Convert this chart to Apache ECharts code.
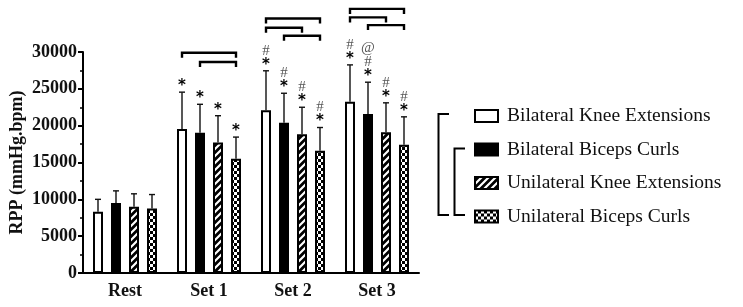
<!DOCTYPE html>
<html>
<head>
<meta charset="utf-8">
<script src="https://cdn.jsdelivr.net/npm/echarts@6/dist/echarts.min.js"></script>
<style>
  html, body { margin: 0; padding: 0; background: #fff; }
  #chart { width: 743px; height: 307px; }
</style>
</head>
<body>
<div id="chart"></div>
<script>
// data
const categories = ['Rest', 'Set 1', 'Set 2', 'Set 3']
const seriesNames = ['Bilateral Knee Extensions', 'Bilateral Biceps Curls', 'Unilateral Knee Extensions', 'Unilateral Biceps Curls']

const bkeMean = [8300, 19550, 22100, 23250]
const bkeSd = [1700, 5000, 5350, 5000]
const bbcMean = [9500, 19050, 20400, 21600]
const bbcSd = [1650, 3850, 4000, 4300]
const ukeMean = [9000, 17700, 18850, 19100]
const ukeSd = [1750, 3650, 3650, 4000]
const ubcMean = [8750, 15500, 16600, 17400]
const ubcSd = [1900, 2950, 3150, 3800]

// significance marks above each bar (bottom first)
const bkeMarks = [[], ['*'], ['*', '#'], ['*', '#']]
const bbcMarks = [[], ['*'], ['*', '#'], ['*', '#', '@']]
const ukeMarks = [[], ['*'], ['*', '#'], ['*', '#']]
const ubcMarks = [[], ['*'], ['*', '#'], ['*', '#']]

// comparison brackets: category, from bar, to bar, height
const bracketCat = [1, 1, 2, 2, 2, 3, 3, 3]
const bracketFrom = [0, 1, 0, 0, 1, 0, 0, 1]
const bracketTo = [3, 3, 3, 2, 3, 3, 2, 3]
const bracketLevel = [29900, 28650, 34550, 33300, 32200, 35850, 34700, 33650]

const yTicks = [0, 5000, 10000, 15000, 20000, 25000, 30000]

const means = [bkeMean, bbcMean, ukeMean, ubcMean]
const sds = [bkeSd, bbcSd, ukeSd, ubcSd]
const marks = [bkeMarks, bbcMarks, ukeMarks, ubcMarks]

const BAR_W = 10
const BAR_GAP = 8
const FONT = '"Liberation Serif", "Times New Roman", serif'

function makePattern (kind) {
    let c = document.createElement('canvas')
    let ctx = c.getContext('2d')
    if (kind === 'hatch') {
        c.width = 7; c.height = 7
        ctx.fillStyle = '#000'
        ctx.fillRect(0, 0, 7, 7)
        ctx.strokeStyle = '#fff'
        ctx.lineWidth = 2.2
        ctx.beginPath()
        for (let k = -7; k <= 14; k += 7) {
            ctx.moveTo(k - 1, 8)
            ctx.lineTo(k + 8, -1)
        }
        ctx.stroke()
    } else {
        c.width = 6; c.height = 6
        ctx.fillStyle = '#000'
        ctx.fillRect(0, 0, 6, 6)
        ctx.fillStyle = '#fff'
        ctx.fillRect(0, 0, 3, 3)
        ctx.fillRect(3, 3, 3, 3)
    }
    return { image: c, repeat: 'repeat' }
}

const fills = ['#ffffff', '#000000', makePattern('hatch'), makePattern('check')]

let chart = echarts.init(document.getElementById('chart'))

let barSeries = seriesNames.map((name, i) => ({
    name: name,
    type: 'bar',
    barWidth: BAR_W,
    barGap: (BAR_GAP / BAR_W * 100) + '%',
    data: means[i],
    itemStyle: { color: fills[i], borderColor: '#000', borderWidth: 2 },
    z: 2
}))

let errData = []
let errMarks = []
means.forEach((m, i) => {
    m.forEach((v, j) => {
        errData.push([j, i, v, v + sds[i][j]])
        errMarks.push(marks[i][j])
    })
})

function barOffset (i) {
    return (i - 1.5) * (BAR_W + BAR_GAP)
}

let errSeries = {
    type: 'custom',
    data: errData,
    z: 5,
    silent: true,
    renderItem (params, api) {
        let cat = api.value(0)
        let idx = api.value(1)
        let base = api.coord([cat, api.value(2)])
        let top = api.coord([cat, api.value(3)])
        let x = base[0] + barOffset(idx)
        let children = [
            { type: 'line', shape: { x1: x, y1: base[1], x2: x, y2: top[1] }, style: { stroke: '#111', lineWidth: 1.4 } },
            { type: 'line', shape: { x1: x - 3, y1: top[1], x2: x + 3, y2: top[1] }, style: { stroke: '#111', lineWidth: 1.4 } }
        ]
        let y = top[1] - 9
        errMarks[params.dataIndex].forEach((s, k) => {
            let star = s === '*'
            children.push({
                type: 'text',
                x: x,
                y: star ? y + 3 : y,
                style: {
                    text: s,
                    align: 'center',
                    verticalAlign: 'middle',
                    fontFamily: star ? 'DejaVu Sans' : FONT,
                    fontWeight: star ? 'bold' : 'normal',
                    fontSize: star ? 15 : 15,
                    fill: star ? '#000' : '#555'
                }
            })
            y -= (k === 0 ? 11 : 14)
        })
        return { type: 'group', children: children }
    }
}

let bracketSeries = {
    type: 'custom',
    data: bracketCat.map((c, k) => [c, bracketFrom[k], bracketTo[k], bracketLevel[k]]),
    clip: false,
    silent: true,
    z: 5,
    renderItem (params, api) {
        let p = api.coord([api.value(0), api.value(3)])
        let x1 = p[0] + barOffset(api.value(1))
        let x2 = p[0] + barOffset(api.value(2))
        return {
            type: 'polyline',
            shape: { points: [[x1, p[1] + 5], [x1, p[1]], [x2, p[1]], [x2, p[1] + 5]] },
            style: { stroke: '#000', lineWidth: 2.4, fill: null }
        }
    }
}

let option = {
    animation: false,
    grid: { left: 83, right: 324, top: 52, bottom: 34 },
    legend: {
        orient: 'vertical',
        left: 469,
        top: 101,
        itemWidth: 23,
        itemHeight: 12,
        itemGap: 13.5,
        icon: 'rect',
        data: seriesNames,
        textStyle: { fontFamily: FONT, fontSize: 19.5, color: '#111', lineHeight: 20, padding: [0, 0, 0, 4] }
    },
    graphic: [
        { type: 'polyline', shape: { points: [[449, 114], [438.5, 114], [438.5, 215], [449, 215]] }, style: { stroke: '#000', lineWidth: 2, fill: null } },
        { type: 'polyline', shape: { points: [[465, 148.5], [454.5, 148.5], [454.5, 215], [465, 215]] }, style: { stroke: '#000', lineWidth: 2, fill: null } }
    ],
    xAxis: {
        type: 'category',
        data: categories,
        axisLine: { lineStyle: { color: '#000', width: 2 } },
        axisTick: { alignWithLabel: true, length: 5, lineStyle: { width: 2, color: '#000' } },
        axisLabel: { fontFamily: FONT, fontWeight: 'bold', fontSize: 18, color: '#111', margin: 9 }
    },
    yAxis: {
        type: 'value',
        min: yTicks[0],
        max: yTicks[yTicks.length - 1],
        interval: yTicks[1] - yTicks[0],
        name: 'RPP (mmHg.bpm)',
        nameLocation: 'middle',
        nameGap: 57,
        nameTextStyle: { fontFamily: FONT, fontWeight: 'bold', fontSize: 18, color: '#111' },
        axisLine: { show: true, lineStyle: { color: '#000', width: 2 } },
        axisTick: { show: true, length: 5, lineStyle: { width: 2, color: '#000' } },
        minorTick: { show: true, splitNumber: 2, length: 3, lineStyle: { width: 1.5, color: '#000' } },
        splitLine: { show: false },
        axisLabel: { fontFamily: FONT, fontWeight: 'bold', fontSize: 18, color: '#111', margin: 6, formatter: v => String(v) }
    },
    series: barSeries.concat([errSeries, bracketSeries])
}

chart.setOption(option)
</script>
</body>
</html>
